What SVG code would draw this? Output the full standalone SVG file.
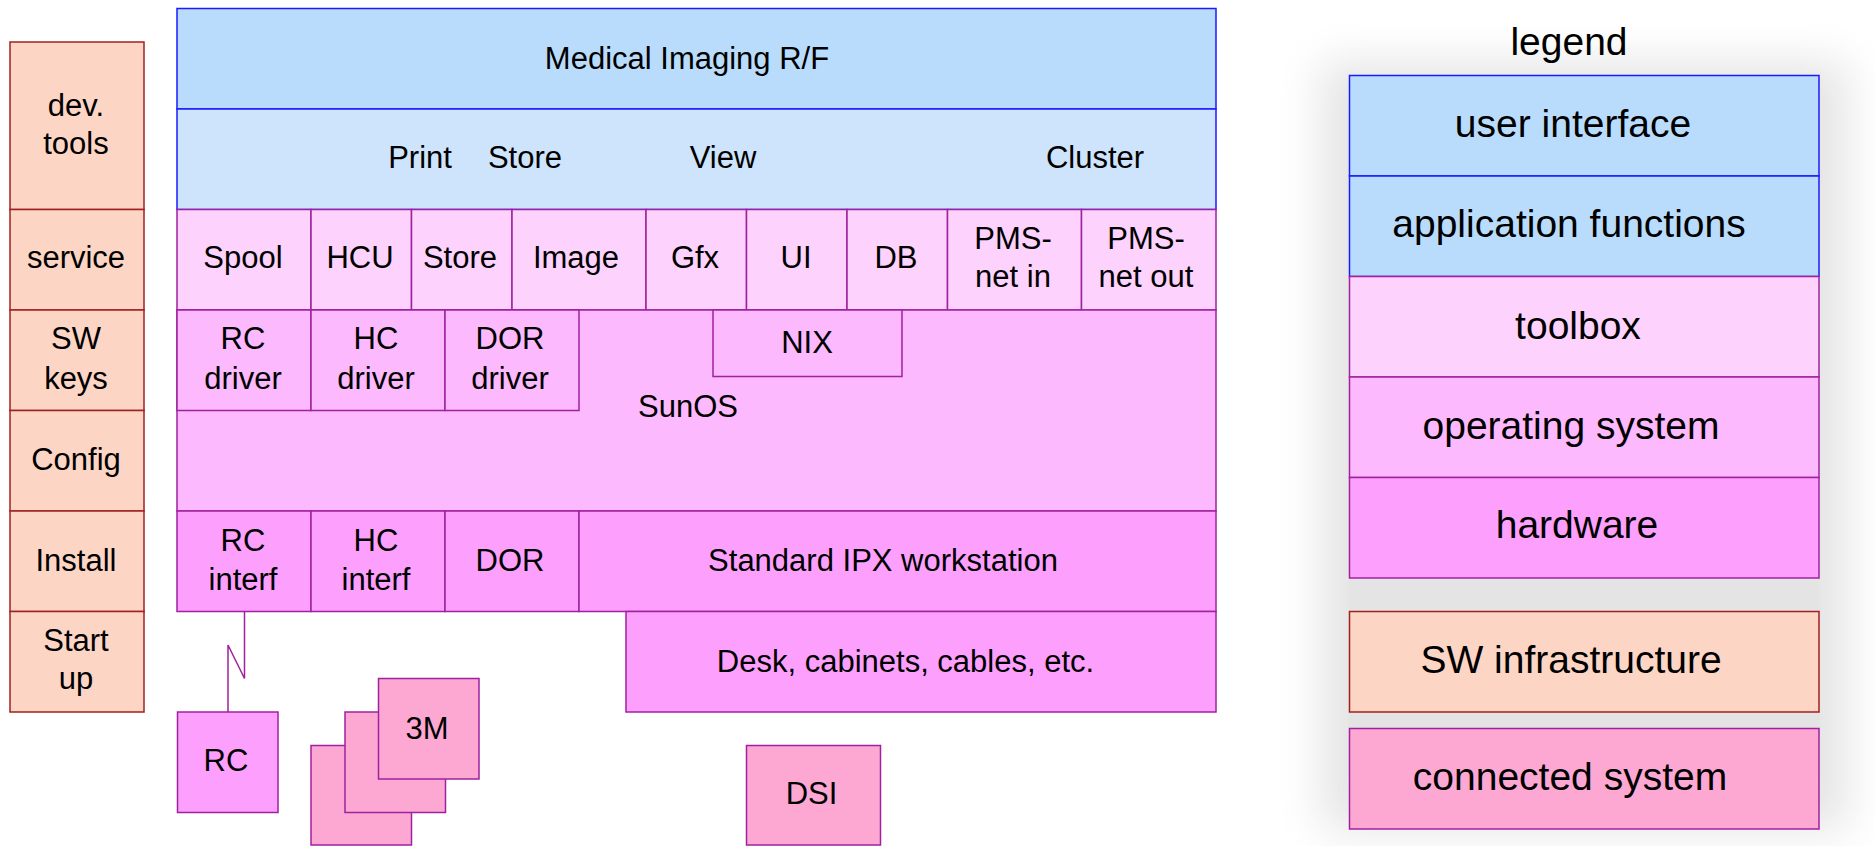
<svg xmlns="http://www.w3.org/2000/svg" width="1875" height="846" viewBox="0 0 1875 846">
<defs>
<filter id="soft" x="-20%" y="-20%" width="140%" height="140%"><feGaussianBlur stdDeviation="22"/></filter>
<style>
text{font-family:"Liberation Sans",Arial,sans-serif;font-size:31px;fill:#000;text-anchor:middle}
.lg text{font-size:39px}
.ui{fill:#b9dcfd;stroke:#1a1aff;stroke-width:1.5}
.af{fill:#cde4fc;stroke:#1a1aff;stroke-width:1.5}
.afl{fill:#b9dcfd;stroke:#1a1aff;stroke-width:1.5}
.tb{fill:#fdd3fd;stroke:#a020a0;stroke-width:1.5}
.os{fill:#fdb9fd;stroke:#a020a0;stroke-width:1.5}
.hw{fill:#fda0fd;stroke:#a020a0;stroke-width:1.5}
.sw{fill:#fdd5c5;stroke:#a02020;stroke-width:1.5}
.cs{fill:#fda8d3;stroke:#a020a0;stroke-width:1.5}
.conn{fill:none;stroke:#a020a0;stroke-width:1.5}
</style>
</defs>
<rect width="1875" height="846" fill="#fff"/>
<!-- legend background -->
<rect x="1322" y="62" width="525" height="768" fill="#e4e4e4" filter="url(#soft)"/>
<rect x="1349.5" y="75.5" width="469.5" height="753.5" fill="#e4e4e4"/>

<!-- left column: SW infrastructure -->
<g id="devtools"><rect class="sw" x="10" y="42" width="134" height="167.5"/><text x="76" y="116">dev.</text><text x="76" y="154">tools</text></g>
<g id="service"><rect class="sw" x="10" y="209.5" width="134" height="100.5"/><text x="76" y="268">service</text></g>
<g id="swkeys"><rect class="sw" x="10" y="310" width="134" height="100.5"/><text x="76" y="349">SW</text><text x="76" y="389">keys</text></g>
<g id="config"><rect class="sw" x="10" y="410.5" width="134" height="100.5"/><text x="76" y="470">Config</text></g>
<g id="install"><rect class="sw" x="10" y="511" width="134" height="100.5"/><text x="76" y="571">Install</text></g>
<g id="startup"><rect class="sw" x="10" y="611.5" width="134" height="100.5"/><text x="76" y="651">Start</text><text x="76" y="689">up</text></g>

<!-- user interface -->
<g id="medical"><rect class="ui" x="177" y="8.5" width="1039" height="100.5"/><text x="687" y="69">Medical Imaging R/F</text></g>
<!-- application functions -->
<g id="appfuncs"><rect class="af" x="177" y="109" width="1039" height="100.5"/>
<text x="420" y="168">Print</text><text x="525" y="168">Store</text><text x="723" y="168">View</text><text x="1095" y="168">Cluster</text></g>

<!-- toolbox -->
<g id="spool"><rect class="tb" x="177" y="209.5" width="134" height="100.5"/><text x="243" y="268">Spool</text></g>
<g id="hcu"><rect class="tb" x="311" y="209.5" width="100.5" height="100.5"/><text x="360" y="268">HCU</text></g>
<g id="store"><rect class="tb" x="411.5" y="209.5" width="100.5" height="100.5"/><text x="460" y="268">Store</text></g>
<g id="image"><rect class="tb" x="512" y="209.5" width="134" height="100.5"/><text x="576" y="268">Image</text></g>
<g id="gfx"><rect class="tb" x="646" y="209.5" width="100.5" height="100.5"/><text x="695" y="268">Gfx</text></g>
<g id="ui"><rect class="tb" x="746.5" y="209.5" width="100.5" height="100.5"/><text x="796" y="268">UI</text></g>
<g id="db"><rect class="tb" x="847" y="209.5" width="100.5" height="100.5"/><text x="896" y="268">DB</text></g>
<g id="pmsin"><rect class="tb" x="947.5" y="209.5" width="134" height="100.5"/><text x="1013" y="249">PMS-</text><text x="1013" y="287">net in</text></g>
<g id="pmsout"><rect class="tb" x="1081.5" y="209.5" width="134.5" height="100.5"/><text x="1146" y="249">PMS-</text><text x="1146" y="287">net out</text></g>

<!-- operating system -->
<g id="sunos"><rect class="os" x="177" y="310" width="1039" height="201"/><text x="688" y="417">SunOS</text></g>
<g id="rcdriver"><rect class="os" x="177" y="310" width="134" height="100.5"/><text x="243" y="349">RC</text><text x="243" y="389">driver</text></g>
<g id="hcdriver"><rect class="os" x="311" y="310" width="134" height="100.5"/><text x="376" y="349">HC</text><text x="376" y="389">driver</text></g>
<g id="dordriver"><rect class="os" x="445" y="310" width="134" height="100.5"/><text x="510" y="349">DOR</text><text x="510" y="389">driver</text></g>
<g id="nix"><rect class="os" x="713" y="310" width="189" height="66.5"/><text x="807" y="353">NIX</text></g>

<!-- hardware -->
<g id="rcinterf"><rect class="hw" x="177" y="511" width="134" height="100.5"/><text x="243" y="551">RC</text><text x="243" y="590">interf</text></g>
<g id="hcinterf"><rect class="hw" x="311" y="511" width="134" height="100.5"/><text x="376" y="551">HC</text><text x="376" y="590">interf</text></g>
<g id="dor"><rect class="hw" x="445" y="511" width="134" height="100.5"/><text x="510" y="571">DOR</text></g>
<g id="ipx"><rect class="hw" x="579" y="511" width="637" height="100.5"/><text x="883" y="571">Standard IPX workstation</text></g>
<g id="desk"><rect class="hw" x="626" y="611.5" width="590" height="100.5"/><text x="905.5" y="672">Desk, cabinets, cables, etc.</text></g>

<!-- connected systems -->
<g id="rc"><rect class="hw" x="177.5" y="712" width="100.5" height="100.5"/><text x="226" y="771">RC</text></g>
<g id="m3">
<rect class="cs" x="311" y="745.5" width="100.5" height="99.5"/>
<rect class="cs" x="345" y="712" width="100.5" height="100.5"/>
<rect class="cs" x="378.5" y="678.5" width="100.5" height="100.5"/>
<text x="427" y="739">3M</text></g>
<g id="dsi"><rect class="cs" x="746.5" y="745.5" width="134" height="99.5"/><text x="811.5" y="804">DSI</text></g>

<!-- connectors -->
<g id="connectors">
<path class="conn" d="M244.5 611.5 V678.5 L228 645 V712"/>
</g>

<!-- legend -->
<g id="legend" class="lg">
<text x="1569" y="55">legend</text>
<g id="lg-ui"><rect class="ui" x="1349.5" y="75.5" width="469.5" height="100.5"/><text x="1573" y="137">user interface</text></g>
<g id="lg-af"><rect class="afl" x="1349.5" y="176" width="469.5" height="100.5"/><text x="1569" y="237">application functions</text></g>
<g id="lg-tb"><rect class="tb" x="1349.5" y="276.5" width="469.5" height="100.5"/><text x="1578" y="339">toolbox</text></g>
<g id="lg-os"><rect class="os" x="1349.5" y="377" width="469.5" height="100.5"/><text x="1571" y="439">operating system</text></g>
<g id="lg-hw"><rect class="hw" x="1349.5" y="477.5" width="469.5" height="100.5"/><text x="1577" y="538">hardware</text></g>
<g id="lg-sw"><rect class="sw" x="1349.5" y="611.5" width="469.5" height="100.5"/><text x="1571" y="673">SW infrastructure</text></g>
<g id="lg-cs"><rect class="cs" x="1349.5" y="728.5" width="469.5" height="100.5"/><text x="1570" y="790">connected system</text></g>
</g>
</svg>
